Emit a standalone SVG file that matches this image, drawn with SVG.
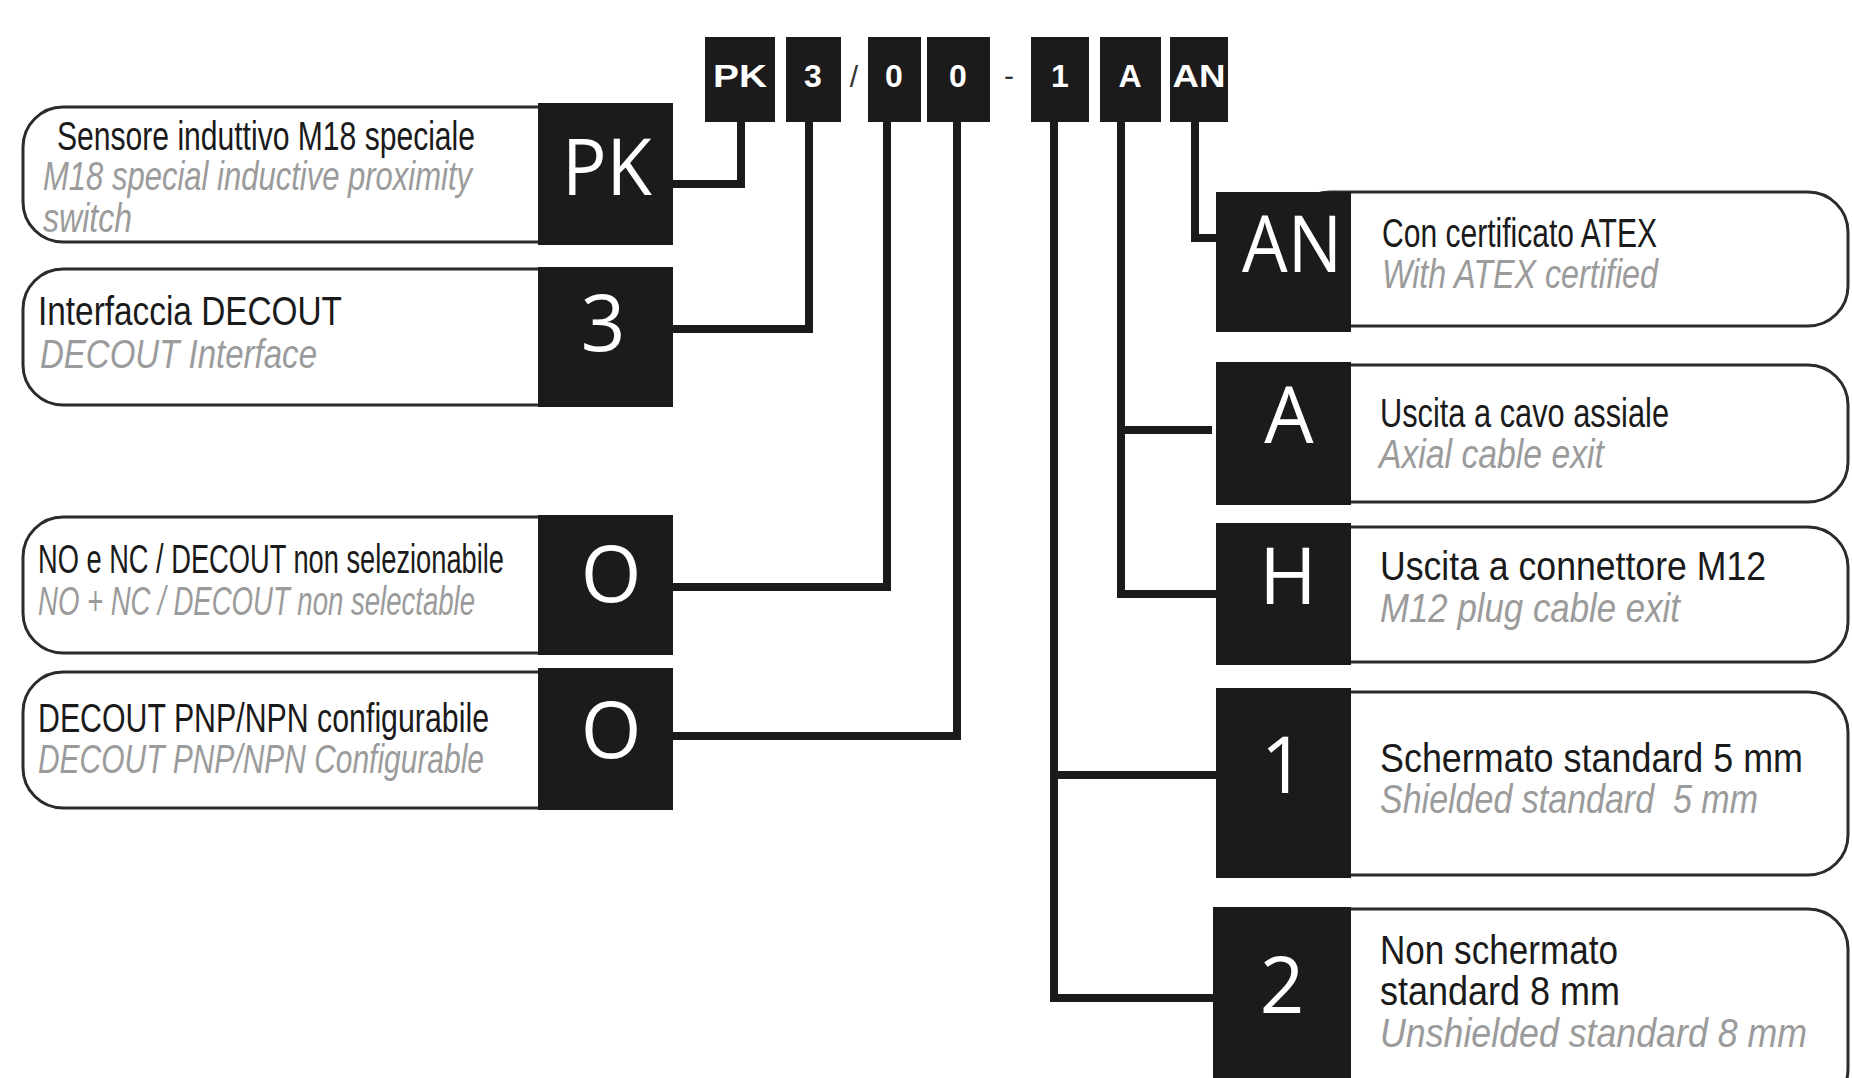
<svg xmlns="http://www.w3.org/2000/svg" width="1852" height="1078" viewBox="0 0 1852 1078">
<style>
.bg{fill:#ffffff}
.box{fill:#1c1a1a}
.outline{fill:#ffffff;stroke:#2b2b2b;stroke-width:3}
.desc{font-family:"Liberation Sans",Arial,sans-serif;font-size:28px;fill:#1a1a1a}
.en{font-style:italic;fill:#9b9b9b}
.big{font-family:"Open Sans","Noto Sans",sans-serif;font-size:78px;fill:#ffffff;text-anchor:middle}
.code{font-family:"Liberation Sans",Arial,sans-serif;font-weight:bold;font-size:32px;fill:#ffffff;text-anchor:middle}
.sep{font-family:"Liberation Sans",Arial,sans-serif;font-size:30px;fill:#333333;text-anchor:middle}
.conn{fill:none;stroke:#1c1a1a;stroke-width:8;stroke-linejoin:miter;stroke-linecap:butt}
</style>
<rect class="bg" x="0" y="0" width="1852" height="1078"/>

<g id="connectors">
  <path class="conn" d="M741 122 V184 H673"/>
  <path class="conn" d="M809 122 V329 H673"/>
  <path class="conn" d="M887 122 V587 H673"/>
  <path class="conn" d="M957 122 V736 H673"/>
  <path class="conn" d="M1054 122 V998 H1214"/>
  <path class="conn" d="M1054 775 H1216"/>
  <path class="conn" d="M1121 122 V594 H1216"/>
  <path class="conn" d="M1121 430 H1212"/>
  <path class="conn" d="M1195 122 V238 H1216"/>
</g>

<g id="code">
  <g id="code-pk"><rect class="box" x="705" y="37" width="70" height="85"/><text class="code" x="740" y="87" textLength="54" lengthAdjust="spacingAndGlyphs">PK</text></g>
  <g id="code-3"><rect class="box" x="786" y="37" width="55" height="85"/><text class="code" x="813" y="87">3</text></g>
  <text class="sep" x="854" y="87">/</text>
  <g id="code-0a"><rect class="box" x="868" y="37" width="53" height="85"/><text class="code" x="894" y="87">0</text></g>
  <g id="code-0b"><rect class="box" x="927" y="37" width="63" height="85"/><text class="code" x="958" y="87">0</text></g>
  <text class="sep" x="1009" y="86">-</text>
  <g id="code-1"><rect class="box" x="1031" y="37" width="58" height="85"/><text class="code" x="1060" y="87">1</text></g>
  <g id="code-a"><rect class="box" x="1100" y="37" width="61" height="85"/><text class="code" x="1130" y="87">A</text></g>
  <g id="code-an"><rect class="box" x="1170" y="37" width="58" height="85"/><text class="code" x="1199" y="87" textLength="53" lengthAdjust="spacingAndGlyphs">AN</text></g>
</g>

<g id="node-pk">
  <rect class="outline" x="23" y="107" width="570" height="135" rx="40" ry="40"/>
  <rect class="box" x="538" y="103" width="135" height="142"/>
  <text class="big" x="607" y="195" textLength="90" lengthAdjust="spacingAndGlyphs">PK</text>
  <text class="desc" x="57" y="150" transform="matrix(1.0744 0 0 1.428571 -4.24 -64.29)" textLength="389.06" lengthAdjust="spacingAndGlyphs">Sensore induttivo M18 speciale</text>
  <text class="desc en" x="43" y="190" transform="matrix(1.1073 0 0 1.428571 -4.61 -81.43)" textLength="387.44" lengthAdjust="spacingAndGlyphs">M18 special inductive proximity</text>
  <text class="desc en" x="43" y="232" transform="matrix(1.1442 0 0 1.428571 -6.20 -99.43)" textLength="77.78" lengthAdjust="spacingAndGlyphs">switch</text>
</g>

<g id="node-3">
  <rect class="outline" x="23" y="269" width="570" height="136" rx="40" ry="40"/>
  <rect class="box" x="538" y="267" width="135" height="140"/>
  <text class="big" x="603" y="351">3</text>
  <text class="desc" x="38" y="325" transform="matrix(1.1914 0 0 1.428571 -7.27 -139.29)" textLength="255.16" lengthAdjust="spacingAndGlyphs">Interfaccia DECOUT</text>
  <text class="desc en" x="40" y="368" transform="matrix(1.1790 0 0 1.428571 -7.16 -157.71)" textLength="234.95" lengthAdjust="spacingAndGlyphs">DECOUT Interface</text>
</g>

<g id="node-o1">
  <rect class="outline" x="23" y="517" width="570" height="136" rx="40" ry="40"/>
  <rect class="box" x="538" y="515" width="135" height="140"/>
  <text class="big" x="611" y="602">O</text>
  <text class="desc" x="38" y="573" transform="matrix(0.9724 0 0 1.428571 1.05 -245.57)" textLength="479.25" lengthAdjust="spacingAndGlyphs">NO e NC / DECOUT non selezionabile</text>
  <text class="desc en" x="38" y="615" transform="matrix(0.9837 0 0 1.428571 0.62 -263.57)" textLength="444.25" lengthAdjust="spacingAndGlyphs">NO + NC / DECOUT non selectable</text>
</g>

<g id="node-o2">
  <rect class="outline" x="23" y="672" width="570" height="136" rx="40" ry="40"/>
  <rect class="box" x="538" y="668" width="135" height="142"/>
  <text class="big" x="611" y="758">O</text>
  <text class="desc" x="38" y="732" transform="matrix(1.0816 0 0 1.428571 -3.10 -313.71)" textLength="416.98" lengthAdjust="spacingAndGlyphs">DECOUT PNP/NPN configurabile</text>
  <text class="desc en" x="38" y="773" transform="matrix(1.0696 0 0 1.428571 -2.64 -331.29)" textLength="416.98" lengthAdjust="spacingAndGlyphs">DECOUT PNP/NPN Configurable</text>
</g>

<g id="node-an">
  <rect class="outline" x="1290" y="192" width="558" height="134" rx="40" ry="40"/>
  <rect class="box" x="1216" y="192" width="135" height="140"/>
  <text class="big" x="1292" y="272" textLength="100" lengthAdjust="spacingAndGlyphs">AN</text>
  <text class="desc" x="1382" y="247" transform="matrix(1.0582 0 0 1.428571 -80.43 -105.86)" textLength="259.87" lengthAdjust="spacingAndGlyphs">Con certificato ATEX</text>
  <text class="desc en" x="1382" y="288" transform="matrix(1.1371 0 0 1.428571 -189.47 -123.43)" textLength="242.73" lengthAdjust="spacingAndGlyphs">With ATEX certified</text>
</g>

<g id="node-a">
  <rect class="outline" x="1290" y="365" width="558" height="137" rx="40" ry="40"/>
  <rect class="box" x="1216" y="362" width="135" height="143"/>
  <text class="big" x="1289" y="443">A</text>
  <text class="desc" x="1380" y="427" transform="matrix(1.0990 0 0 1.428571 -136.62 -183.00)" textLength="262.98" lengthAdjust="spacingAndGlyphs">Uscita a cavo assiale</text>
  <text class="desc en" x="1379" y="468" transform="matrix(1.2049 0 0 1.428571 -282.56 -200.57)" textLength="186.73" lengthAdjust="spacingAndGlyphs">Axial cable exit</text>
</g>

<g id="node-h">
  <rect class="outline" x="1290" y="527" width="558" height="135" rx="40" ry="40"/>
  <rect class="box" x="1216" y="523" width="135" height="142"/>
  <text class="big" x="1288" y="604">H</text>
  <text class="desc" x="1380" y="580" transform="matrix(1.2720 0 0 1.428571 -375.36 -248.57)" textLength="303.46" lengthAdjust="spacingAndGlyphs">Uscita a connettore M12</text>
  <text class="desc en" x="1380" y="622" transform="matrix(1.2437 0 0 1.428571 -336.31 -266.57)" textLength="241.22" lengthAdjust="spacingAndGlyphs">M12 plug cable exit</text>
</g>

<g id="node-1">
  <rect class="outline" x="1290" y="692" width="558" height="183" rx="40" ry="40"/>
  <rect class="box" x="1216" y="688" width="135" height="190"/>
  <text class="big" x="1283" y="793">1</text>
  <text class="desc" x="1380" y="772" transform="matrix(1.2822 0 0 1.428571 -389.44 -330.86)" textLength="329.90" lengthAdjust="spacingAndGlyphs">Schermato standard 5 mm</text>
  <text class="desc en" x="1380" y="813" transform="matrix(1.2145 0 0 1.428571 -296.01 -348.43)" textLength="311.25" lengthAdjust="spacingAndGlyphs" xml:space="preserve" style="white-space:pre">Shielded standard  5 mm</text>
</g>

<g id="node-2">
  <rect class="outline" x="1290" y="909" width="558" height="200" rx="40" ry="40"/>
  <rect class="box" x="1213" y="907" width="138" height="180"/>
  <text class="big" x="1282" y="1013">2</text>
  <text class="desc" x="1380" y="964" transform="matrix(1.2537 0 0 1.428571 -350.11 -413.14)" textLength="189.84" lengthAdjust="spacingAndGlyphs">Non schermato</text>
  <text class="desc" x="1380" y="1005" transform="matrix(1.2853 0 0 1.428571 -393.71 -430.71)" textLength="186.73" lengthAdjust="spacingAndGlyphs">standard 8 mm</text>
  <text class="desc en" x="1380" y="1047" transform="matrix(1.2763 0 0 1.428571 -381.29 -448.71)" textLength="334.57" lengthAdjust="spacingAndGlyphs">Unshielded standard 8 mm</text>
</g>
</svg>
